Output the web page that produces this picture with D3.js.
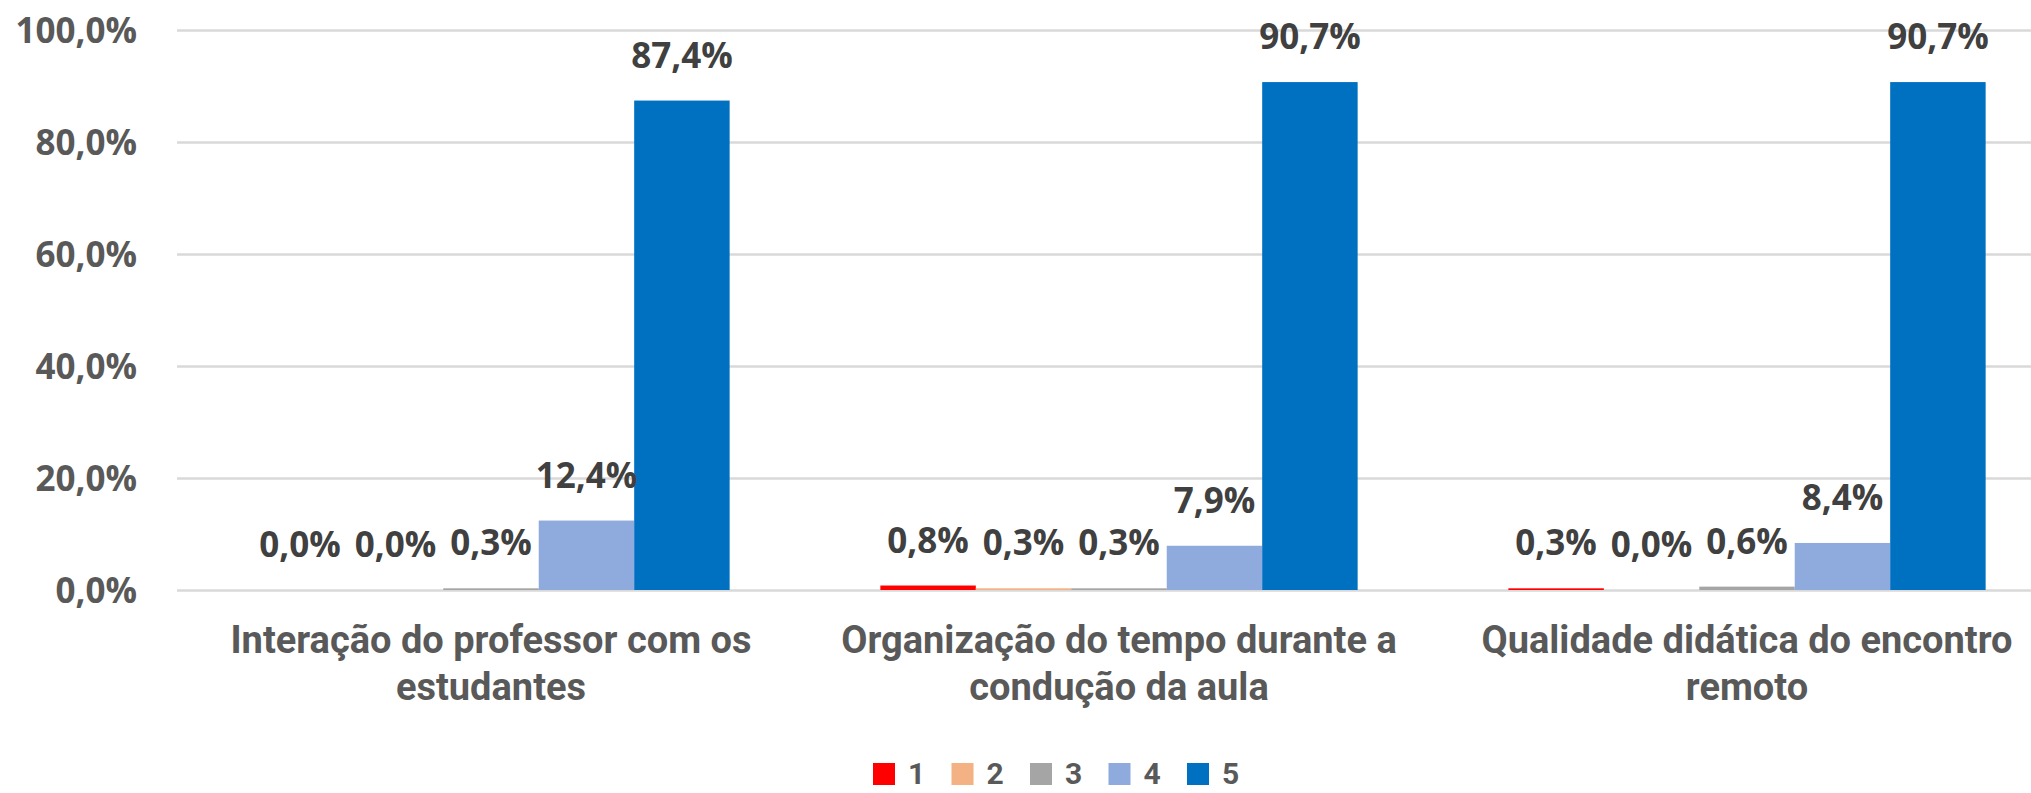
<!DOCTYPE html>
<html>
<head>
<meta charset="utf-8">
<script src="https://cdn.jsdelivr.net/npm/d3@7"></script>
<style>
  html, body { margin: 0; padding: 0; background: #fff; }
  svg { display: block; }
</style>
</head>
<body>
<svg id="chart" width="2031" height="793"></svg>
<script>
// ---- data ----
const categories = [
  "Interação do professor com os estudantes",
  "Organização do tempo durante a condução da aula",
  "Qualidade didática do encontro remoto"
];
const categoryLines = [
  ["Interação do professor com os", "estudantes"],
  ["Organização do tempo durante a", "condução da aula"],
  ["Qualidade didática do encontro", "remoto"]
];
const seriesNames = ["1", "2", "3", "4", "5"];
const series1 = [0.0, 0.8, 0.3];
const series2 = [0.0, 0.3, 0.0];
const series3 = [0.3, 0.3, 0.6];
const series4 = [12.4, 7.9, 8.4];
const series5 = [87.4, 90.7, 90.7];
const seriesColors = ["#FF0000", "#F4B183", "#A5A5A5", "#8FAADC", "#0070C0"];
const yTicks = [0, 20, 40, 60, 80, 100];

const seriesValues = [series1, series2, series3, series4, series5];

// ---- layout ----
const svg = d3.select("#chart");
const plotLeft = 177, plotRight = 2061, plotTop = 30, plotBottom = 590;

const x0 = d3.scaleBand().domain(categories).range([plotLeft, plotRight])
  .paddingInner(0.24).paddingOuter(0.12);
const x1 = d3.scaleBand().domain(seriesNames).range([0, x0.bandwidth()]);
const y = d3.scaleLinear().domain([0, 100]).range([plotBottom, plotTop]);

const fmt = v => d3.format(".1f")(v).replace(".", ",") + "%";

// gridlines + y tick labels
const yAxis = d3.axisLeft(y).tickValues(yTicks).tickSize(-(plotRight - plotLeft)).tickFormat(fmt).tickPadding(40);
const gAxis = svg.append("g").attr("transform", `translate(${plotLeft},0)`).call(yAxis);
gAxis.select(".domain").remove();
gAxis.selectAll(".tick line").attr("stroke", "#D9D9D9").attr("stroke-width", 2.5);
gAxis.selectAll(".tick text")
  .attr("fill", "#595959")
  .attr("font-family", "'Open Sans', sans-serif")
  .attr("font-weight", 700)
  .attr("font-size", 35)
  .attr("dy", "0.36em");

// bars
const rows = [];
categories.forEach((c, ci) => {
  seriesNames.forEach((s, si) => rows.push({ cat: c, ser: s, si, value: seriesValues[si][ci] }));
});

const gBars = svg.append("g");
gBars.selectAll("rect").data(rows).join("rect")
  .attr("x", d => x0(d.cat) + x1(d.ser))
  .attr("width", x1.bandwidth())
  .attr("y", d => y(d.value))
  .attr("height", d => y(0) - y(d.value))
  .attr("fill", d => seriesColors[d.si]);

// data labels
svg.append("g").selectAll("text").data(rows).join("text")
  .attr("x", d => x0(d.cat) + x1(d.ser) + x1.bandwidth() / 2)
  .attr("y", d => y(d.value) - 33)
  .attr("text-anchor", "middle")
  .attr("fill", "#404040")
  .attr("font-family", "'Open Sans', sans-serif")
  .attr("font-weight", 700)
  .attr("font-size", 35)
  .text(d => fmt(d.value));

// category labels
const gCat = svg.append("g");
categories.forEach((c, ci) => {
  const cx = x0(c) + x0.bandwidth() / 2;
  const t = gCat.append("text")
    .attr("x", cx)
    .attr("text-anchor", "middle")
    .attr("fill", "#595959")
    .attr("font-family", "Roboto, sans-serif")
    .attr("font-weight", 700)
    .attr("font-size", 38);
  categoryLines[ci].forEach((ln, li) => {
    t.append("tspan").attr("x", cx).attr("y", 653 + li * 47).text(ln);
  });
});

// legend
const legendStart = 873, legendStep = 78.5;
const gLeg = svg.append("g");
seriesNames.forEach((s, i) => {
  const lx = legendStart + i * legendStep;
  gLeg.append("rect").attr("x", lx).attr("y", 763).attr("width", 22).attr("height", 22).attr("fill", seriesColors[i]);
  gLeg.append("text").attr("x", lx + 35).attr("y", 784)
    .attr("fill", "#595959")
    .attr("font-family", "Roboto, sans-serif")
    .attr("font-weight", 700)
    .attr("font-size", 30)
    .text(s);
});
</script>
</body>
</html>
